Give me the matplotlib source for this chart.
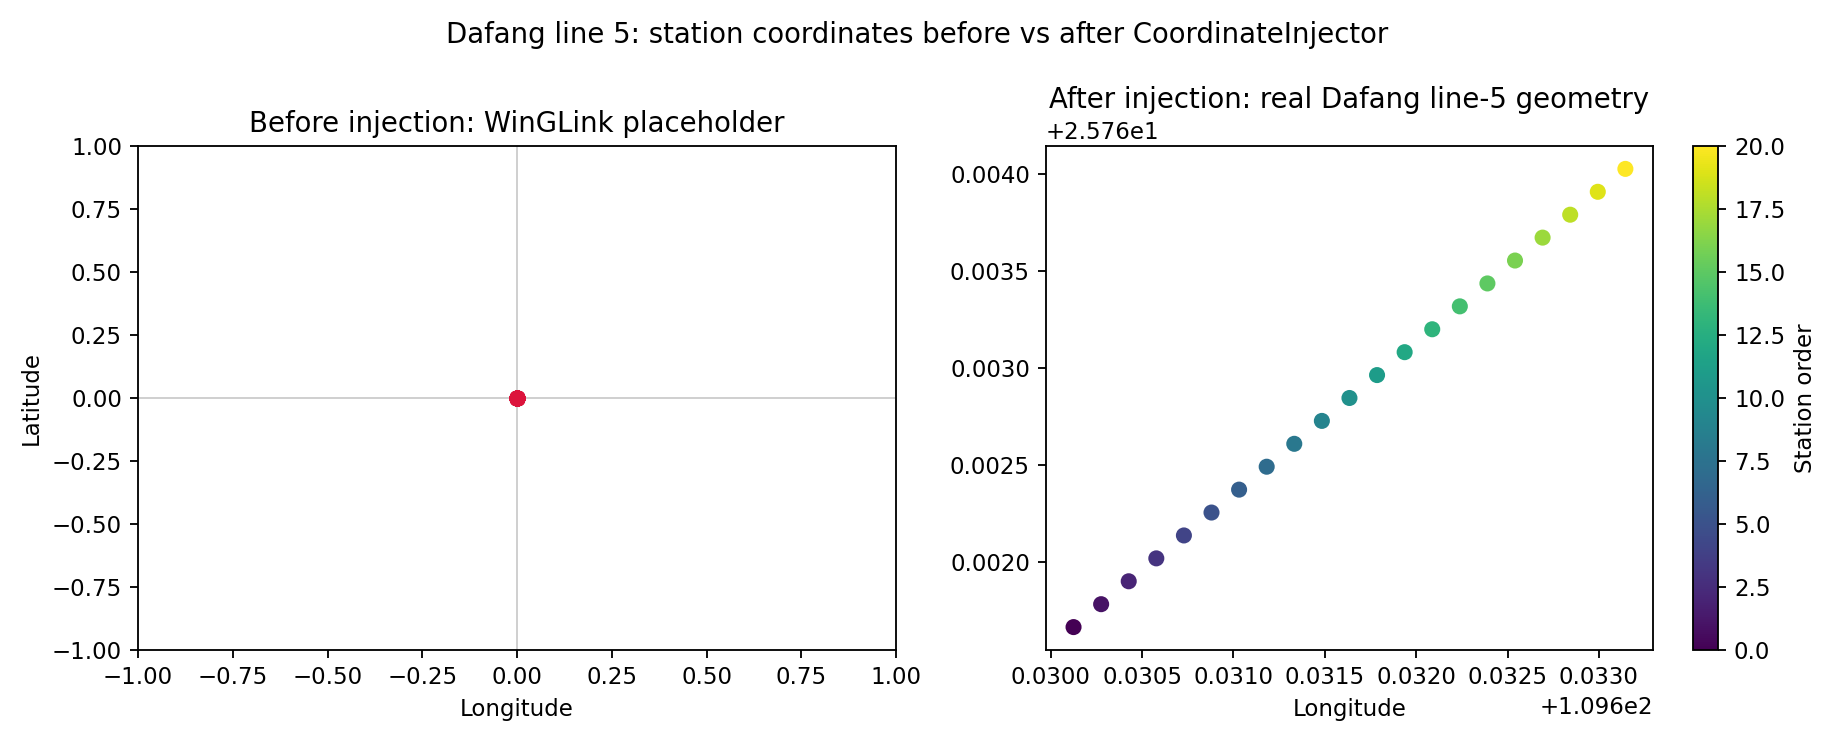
import numpy as np
import matplotlib
matplotlib.use("Agg")
import matplotlib.pyplot as plt

# placeholder coordinates written by WinGLink (all stations at 0, 0)
before_lon = [0.0, 0.0, 0.0, 0.0, 0.0, 0.0, 0.0, 0.0, 0.0, 0.0, 0.0,
              0.0, 0.0, 0.0, 0.0, 0.0, 0.0, 0.0, 0.0, 0.0, 0.0]
before_lat = [0.0, 0.0, 0.0, 0.0, 0.0, 0.0, 0.0, 0.0, 0.0, 0.0, 0.0,
              0.0, 0.0, 0.0, 0.0, 0.0, 0.0, 0.0, 0.0, 0.0, 0.0]

# real line-5 geometry after injection
after_lon = [109.630125, 109.630276, 109.630427, 109.630578, 109.630729,
             109.630880, 109.631031, 109.631182, 109.631333, 109.631484,
             109.631635, 109.631786, 109.631937, 109.632088, 109.632239,
             109.632390, 109.632541, 109.632692, 109.632843, 109.632994,
             109.633145]
after_lat = [25.761664, 25.761782, 25.761900, 25.762018, 25.762136,
             25.762254, 25.762372, 25.762490, 25.762608, 25.762726,
             25.762844, 25.762962, 25.763080, 25.763198, 25.763316,
             25.763434, 25.763552, 25.763670, 25.763788, 25.763906,
             25.764024]
station_order = [0, 1, 2, 3, 4, 5, 6, 7, 8, 9, 10,
                 11, 12, 13, 14, 15, 16, 17, 18, 19, 20]

DPI = 165
fig = plt.figure(figsize=(1835 / DPI, 741 / DPI), dpi=DPI)
ax1 = fig.add_axes([0.0752, 0.1228, 0.4131, 0.6802])
ax2 = fig.add_axes([0.5700, 0.1228, 0.3308, 0.6802])
cax = fig.add_axes([0.9226, 0.1228, 0.0136, 0.6802])

# left: placeholder
ax1.axhline(0, color="0.8", lw=0.8, zorder=1)
ax1.axvline(0, color="0.8", lw=0.8, zorder=1)
ax1.scatter(before_lon, before_lat, color="crimson", zorder=3)
ax1.set_xlim(-1, 1)
ax1.set_ylim(-1, 1)
ax1.set_xlabel("Longitude")
ax1.set_ylabel("Latitude")
ax1.set_title("Before injection: WinGLink placeholder")

# right: injected coordinates
sc = ax2.scatter(after_lon, after_lat, c=np.array(station_order, dtype=float),
                 cmap="viridis")
ax2.set_xlabel("Longitude")
ax2.set_title("After injection: real Dafang line-5 geometry", pad=16.5)
fig.colorbar(sc, cax=cax, label="Station order")

fig.suptitle("Dafang line 5: station coordinates before vs after CoordinateInjector",
             y=0.972)

fig.savefig("out.png", dpi=DPI)
